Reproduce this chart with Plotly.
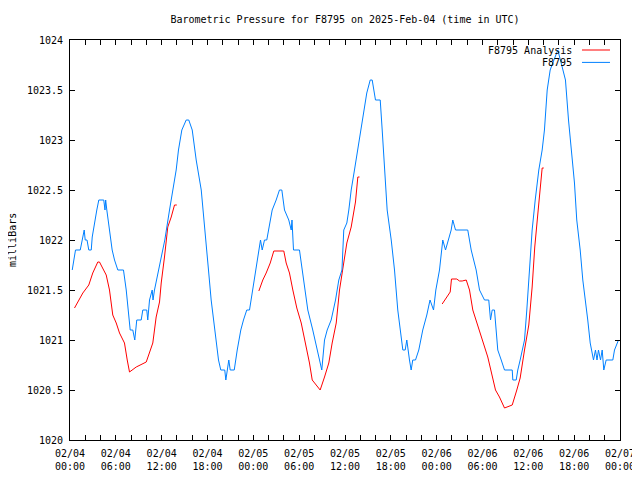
import pandas as pd
import plotly.graph_objects as go

# hours since 2025-02-04 00:00 UTC
station_hours = [0.29, 0.72, 1.34, 1.60, 1.86, 1.99, 2.23, 2.46, 2.78, 2.91, 3.17, 3.51, 3.77, 4.42, 4.58, 4.67,
                 4.82, 5.17, 5.52, 5.83, 6.26, 7.00, 7.36, 7.62, 7.88, 8.22, 8.48, 8.74, 9.32, 9.53, 10.05, 10.18,
                 10.41, 10.76, 10.87, 11.06, 11.62, 11.85, 12.41, 13.03, 13.46, 13.90, 14.20, 14.64, 15.21, 15.55,
                 16.00, 16.52, 17.18, 17.70, 18.13, 18.48, 18.92, 19.44, 19.74, 20.26, 20.40, 20.79, 20.97, 21.50,
                 21.89, 22.36, 22.71, 23.14, 23.50, 23.93, 24.32, 24.72, 24.94, 25.16, 25.46, 25.76, 26.02, 26.47,
                 26.99, 27.42, 27.73, 28.08, 28.64, 28.96, 29.06, 29.26, 30.04, 30.40, 30.79, 31.13, 31.78, 32.36,
                 32.66, 32.96, 33.32, 33.67, 34.19, 34.76, 35.19, 35.60, 35.84, 36.24, 36.50, 36.81, 37.24, 37.67,
                 38.12, 38.55, 38.85, 39.30, 39.56, 39.99, 40.61, 40.87, 41.17, 41.52, 42.05, 42.48, 42.91, 43.26,
                 43.57, 43.88, 44.09, 44.44, 44.66, 44.87, 45.23, 45.66, 46.18, 46.71, 47.13, 47.59, 47.89, 48.37,
                 48.80, 49.16, 49.51, 49.90, 50.11, 50.47, 52.07, 52.52, 53.17, 53.61, 54.26, 54.82, 55.05, 55.27,
                 55.57, 56.00, 56.45, 56.88, 57.89, 57.97, 58.41, 58.62, 58.93, 59.50, 59.80, 60.15, 60.50, 60.90,
                 61.37, 61.81, 62.11, 62.47, 62.86, 63.20, 63.86, 64.30, 64.86, 65.26, 65.61, 66.04, 66.34, 66.79,
                 67.13, 67.48, 67.78, 68.10, 68.53, 68.79, 68.99, 69.18, 69.45, 69.67, 69.88, 70.19, 71.06, 71.28,
                 71.80]
station_mb = [1021.70, 1021.90, 1021.90, 1022.00, 1022.10, 1022.00, 1022.00, 1021.90, 1021.90, 1022.03, 1022.17,
              1022.30, 1022.40, 1022.40, 1022.30, 1022.40, 1022.30, 1022.07, 1021.90, 1021.80, 1021.70, 1021.70,
              1021.50, 1021.30, 1021.10, 1021.10, 1021.00, 1021.20, 1021.20, 1021.30, 1021.30, 1021.20, 1021.40,
              1021.50, 1021.40, 1021.50, 1021.70, 1021.80, 1022.00, 1022.30, 1022.50, 1022.70, 1022.90, 1023.10,
              1023.20, 1023.20, 1023.10, 1022.80, 1022.50, 1022.10, 1021.70, 1021.40, 1021.10, 1020.80, 1020.70,
              1020.70, 1020.60, 1020.80, 1020.70, 1020.70, 1020.90, 1021.10, 1021.20, 1021.30, 1021.30, 1021.50,
              1021.70, 1021.90, 1022.00, 1021.90, 1022.00, 1022.00, 1022.10, 1022.30, 1022.40, 1022.50, 1022.50,
              1022.30, 1022.20, 1022.10, 1022.20, 1021.90, 1021.90, 1021.70, 1021.50, 1021.30, 1021.10, 1020.90,
              1020.80, 1020.70, 1021.00, 1021.10, 1021.20, 1021.40, 1021.60, 1021.70, 1022.10, 1022.17, 1022.30,
              1022.50, 1022.70, 1022.90, 1023.10, 1023.30, 1023.47, 1023.60, 1023.60, 1023.40, 1023.40, 1023.10,
              1022.70, 1022.30, 1022.00, 1021.70, 1021.30, 1021.10, 1020.90, 1020.90, 1021.00, 1020.80, 1020.70,
              1020.80, 1020.80, 1020.90, 1021.10, 1021.25, 1021.40, 1021.30, 1021.50, 1021.70, 1022.00, 1021.90,
              1022.00, 1022.10, 1022.20, 1022.10, 1022.10, 1021.90, 1021.70, 1021.50, 1021.40, 1021.40, 1021.20,
              1021.30, 1021.30, 1020.90, 1020.80, 1020.70, 1020.70, 1020.60, 1020.60, 1020.70, 1020.80, 1021.00,
              1021.30, 1021.70, 1022.10, 1022.40, 1022.70, 1022.90, 1023.10, 1023.50, 1023.70, 1023.77, 1023.90,
              1023.77, 1023.60, 1023.20, 1022.90, 1022.57, 1022.20, 1021.90, 1021.60, 1021.40, 1021.20, 1020.97,
              1020.80, 1020.90, 1020.80, 1020.90, 1020.80, 1020.90, 1020.70, 1020.80, 1020.80, 1020.90, 1021.00]

analysis_hours = [0.59, 1.68, 2.46, 2.98, 3.64, 3.86, 4.74, 5.17, 5.60, 6.05, 6.48, 7.13, 7.49, 7.79, 8.67, 9.98,
                  10.84, 11.28, 11.72, 11.94, 12.37, 12.80, 13.25, 13.68, 13.98, None,
                  24.72, 25.24, 25.68, 26.21, 26.68, 27.99, 28.30, 28.73, 29.17, 29.69, 30.27, 30.83, 31.35, 31.71,
                  32.23, 32.75, 33.32, 33.88, 34.32, 34.85, 35.28, 35.80, 36.24, 36.81, 37.37, 37.68, 37.90, None,
                  48.72, 49.77, 49.94, 50.63, 50.99, 51.34, 51.87, 52.30, 52.73, 53.25, 53.83, 54.69, 55.70, 56.22,
                  56.88, 57.89, 58.49, 58.93, 59.50, 60.06, 60.50, 60.84, 61.29, 61.59, 61.81, 62.02]
analysis_mb = [1021.32, 1021.47, 1021.55, 1021.67, 1021.78, 1021.78, 1021.65, 1021.50, 1021.25, 1021.17, 1021.07,
               1020.97, 1020.80, 1020.68, 1020.73, 1020.78, 1020.97, 1021.23, 1021.38, 1021.57, 1021.83, 1022.13,
               1022.23, 1022.35, 1022.35, None,
               1021.49, 1021.60, 1021.67, 1021.77, 1021.89, 1021.89, 1021.77, 1021.67, 1021.50, 1021.32, 1021.17,
               1020.97, 1020.77, 1020.60, 1020.55, 1020.50, 1020.63, 1020.77, 1020.97, 1021.17, 1021.50, 1021.77,
               1021.97, 1022.13, 1022.38, 1022.63, 1022.63, None,
               1021.36, 1021.48, 1021.61, 1021.61, 1021.59, 1021.59, 1021.60, 1021.50, 1021.30, 1021.17, 1021.05,
               1020.83, 1020.50, 1020.43, 1020.32, 1020.35, 1020.50, 1020.62, 1020.90, 1021.15, 1021.53, 1021.93,
               1022.30, 1022.53, 1022.72, 1022.72]

y_ticks = [1020, 1020.5, 1021, 1021.5, 1022, 1022.5, 1023, 1023.5, 1024]
y_tick_labels = ["1020", "1020.5", "1021", "1021.5", "1022", "1022.5", "1023", "1023.5", "1024"]

start = pd.Timestamp("2025-02-04 00:00")


def to_time(hours):
    return [None if h is None else start + pd.Timedelta(hours=h) for h in hours]


FONT = "DejaVu Sans Mono"
RED = "#ff0000"
BLUE = "#0080ff"

fig = go.Figure()
fig.add_trace(go.Scatter(x=to_time(analysis_hours), y=analysis_mb, mode="lines",
                         line=dict(color=RED, width=1), name="F8795 Analysis", connectgaps=False))
fig.add_trace(go.Scatter(x=to_time(station_hours), y=station_mb, mode="lines",
                         line=dict(color=BLUE, width=1), name="F8795"))

# gnuplot-style legend (text then line sample)
legend_rows = [("F8795 Analysis", RED, 0.975), ("F8795", BLUE, 0.944)]
for text, color, yy in legend_rows:
    fig.add_annotation(xref="paper", yref="paper", x=0.9164, y=yy, text=text, showarrow=False,
                       xanchor="right", yanchor="middle", font=dict(family=FONT, size=10, color="black"))
    fig.add_shape(type="line", xref="paper", yref="paper", x0=0.9309, x1=0.9818, y0=yy, y1=yy,
                  line=dict(color=color, width=1))

fig.add_annotation(xref="paper", yref="paper", x=-0.1055, y=0.5, text="milliBars", textangle=-90,
                   showarrow=False, xanchor="center", yanchor="middle",
                   font=dict(family=FONT, size=10, color="black"))

# the page body adds an 8px offset, so the figure is shifted; margins reduced accordingly
fig.update_layout(
    width=632, height=464,
    margin=dict(l=62, r=20, t=32, b=32, autoexpand=False),
    paper_bgcolor="white", plot_bgcolor="white",
    showlegend=False,
    font=dict(family=FONT, size=10, color="black"),
    title=dict(text="Barometric Pressure for F8795 on 2025-Feb-04 (time in UTC)",
               x=0.5, xref="paper", xanchor="center", y=1 - 11 / 464, yref="container", yanchor="middle",
               font=dict(family=FONT, size=10, color="black")),
    xaxis=dict(
        type="date", range=[start, start + pd.Timedelta(hours=72)],
        tickmode="linear", tick0=start, dtick=6 * 3600 * 1000,
        tickformat="%m/%d<br>%H:%M",
        ticks="inside", ticklen=5, tickcolor="black", tickwidth=1,
        ticklabelstandoff=4, ticklabeloverflow="allow",
        showline=True, linecolor="black", linewidth=1, mirror="ticks",
        showgrid=False, zeroline=False,
        minor=dict(dtick=2 * 3600 * 1000, tick0=start, ticks="inside", ticklen=5,
                   tickcolor="black", showgrid=False),
        tickfont=dict(family=FONT, size=10, color="black"),
    ),
    yaxis=dict(
        range=[1020, 1024], tickmode="array", tickvals=y_ticks, ticktext=y_tick_labels,
        ticks="inside", ticklen=5, tickcolor="black", tickwidth=1,
        ticklabelstandoff=4,
        showline=True, linecolor="black", linewidth=1, mirror="ticks",
        showgrid=False, zeroline=False,
        tickfont=dict(family=FONT, size=10, color="black"),
    ),
)

fig.write_html("out.html")
